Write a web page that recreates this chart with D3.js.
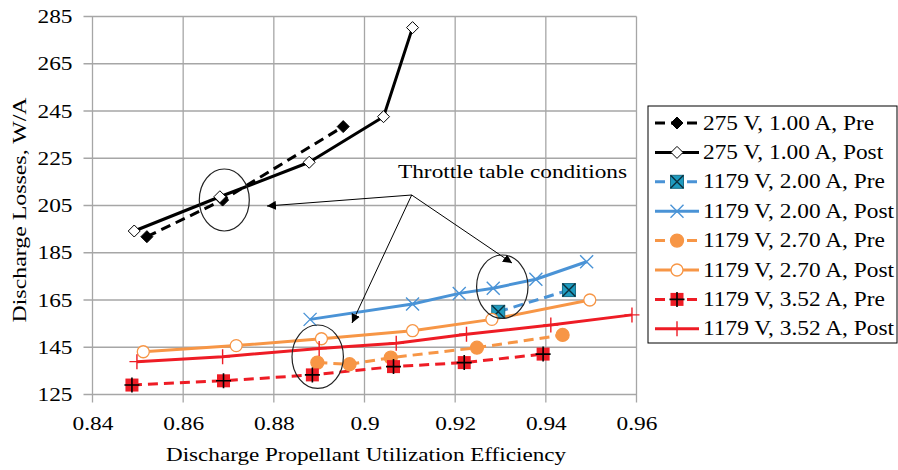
<!DOCTYPE html>
<html>
<head>
<meta charset="utf-8">
<script src="https://cdn.jsdelivr.net/npm/d3@7"></script>
<style>
  body { margin: 0; background: #fff; }
  svg text { font-family: "Liberation Serif", "Times New Roman", serif; fill: #000; }
</style>
</head>
<body>
<svg id="chart" width="898" height="470"></svg>
<script>
// data
var xTicks = [0.84, 0.86, 0.88, 0.9, 0.92, 0.94, 0.96];
var yTicks = [125, 145, 165, 185, 205, 225, 245, 265, 285];

var v275Pre  = [[0.852, 191.8], [0.8687, 207.3], [0.8953, 238.4]];
var v275Post = [[0.8492, 194.2], [0.8681, 208.7], [0.8878, 223.3], [0.9042, 242.6], [0.9106, 280.3]];
var a200Pre  = [[0.9295, 160.0], [0.9451, 169.2]];
var a200Post = [[0.888, 156.8], [0.9106, 163.3], [0.9209, 167.8], [0.9284, 170.0], [0.9378, 173.8], [0.949, 181.2]];
var a270Pre  = [[0.8896, 138.5], [0.8967, 137.8], [0.9058, 140.6], [0.9248, 144.8], [0.9437, 150.2]];
var a270Post = [[0.8512, 143.1], [0.8717, 145.7], [0.8905, 148.6], [0.9106, 152.0], [0.9281, 156.8], [0.9497, 165.0]];
var a352Pre  = [[0.8487, 129.0], [0.8689, 130.8], [0.8885, 133.3], [0.9064, 136.8], [0.922, 138.5], [0.9394, 142.1]];
var a352Post = [[0.8498, 138.9], [0.8687, 141.0], [0.89, 144.5], [0.907, 146.7], [0.9225, 150.5], [0.9411, 154.4], [0.959, 158.7]];

var seriesNames = ["275 V, 1.00 A, Pre", "275 V, 1.00 A, Post", "1179 V, 2.00 A, Pre", "1179 V, 2.00 A, Post",
                   "1179 V, 2.70 A, Pre", "1179 V, 2.70 A, Post", "1179 V, 3.52 A, Pre", "1179 V, 3.52 A, Post"];

var black = "#000", blue = "#4a93d6", orange = "#f79646", red = "#ee1c25";

var series = [
  { name: seriesNames[0], data: v275Pre,  color: black,  dash: true,  marker: "diamondFill" },
  { name: seriesNames[1], data: v275Post, color: black,  dash: false, marker: "diamondOpen" },
  { name: seriesNames[2], data: a200Pre,  color: blue,   dash: true,  marker: "squareX" },
  { name: seriesNames[3], data: a200Post, color: blue,   dash: false, marker: "cross" },
  { name: seriesNames[4], data: a270Pre,  color: orange, dash: true,  marker: "circleFill" },
  { name: seriesNames[5], data: a270Post, color: orange, dash: false, marker: "circleOpen" },
  { name: seriesNames[6], data: a352Pre,  color: red,    dash: true,  marker: "squarePlus" },
  { name: seriesNames[7], data: a352Post, color: red,    dash: false, marker: "plus" }
];

var FONT = "Liberation Serif";

var svg = d3.select("#chart");
var x = d3.scaleLinear().domain([0.84, 0.96]).range([92.5, 636.5]);
var y = d3.scaleLinear().domain([125, 285]).range([394.5, 16.5]);

// grid
var grid = svg.append("g");
grid.selectAll("line.v").data(xTicks).enter().append("line")
  .attr("x1", function(d) { return x(d); }).attr("x2", function(d) { return x(d); })
  .attr("y1", y(285)).attr("y2", y(125) + 8)
  .attr("stroke", "#a6a6a6").attr("stroke-width", 1.3);
grid.selectAll("line.h").data(yTicks).enter().append("line")
  .attr("y1", function(d) { return y(d); }).attr("y2", function(d) { return y(d); })
  .attr("x1", x(0.84) - 9).attr("x2", x(0.96))
  .attr("stroke", "#a6a6a6").attr("stroke-width", 1.3);

// axes (labels only, lines drawn by grid)
var xAxis = d3.axisBottom(x).tickValues(xTicks).tickSize(0).tickPadding(22)
  .tickFormat(function(d) { return String(+d.toFixed(2)); });
svg.append("g").attr("transform", "translate(0," + y(125) + ")").call(xAxis)
  .attr("font-family", FONT).attr("font-size", 19)
  .call(function(g) { g.select(".domain").remove(); })
  .selectAll("text").attr("class", "tick-label");

var yAxis = d3.axisLeft(y).tickValues(yTicks).tickSize(0).tickPadding(20);
svg.append("g").attr("transform", "translate(" + x(0.84) + ",0)").call(yAxis)
  .attr("font-family", FONT).attr("font-size", 19)
  .call(function(g) { g.select(".domain").remove(); })
  .selectAll("text").attr("class", "tick-label");

svg.append("text").attr("x", 366).attr("y", 461).attr("text-anchor", "middle")
  .attr("font-size", 19).attr("textLength", 400).attr("lengthAdjust", "spacingAndGlyphs")
  .text("Discharge Propellant Utilization Efficiency");
svg.append("text").attr("transform", "translate(26,210) rotate(-90)").attr("text-anchor", "middle")
  .attr("font-size", 19).attr("textLength", 225).attr("lengthAdjust", "spacingAndGlyphs")
  .text("Discharge Losses, W/A");

// markers
function drawMarker(g, type, color, cx, cy) {
  var s;
  if (type == "diamondFill" || type == "diamondOpen") {
    s = 6;
    g.append("path").attr("d", "M" + cx + "," + (cy - s) + "L" + (cx + s) + "," + cy + "L" + cx + "," + (cy + s) + "L" + (cx - s) + "," + cy + "Z")
      .attr("fill", type == "diamondFill" ? "#000" : "#fff").attr("stroke", "#000").attr("stroke-width", 1);
  }
  else if (type == "squareX") {
    s = 6.5;
    g.append("rect").attr("x", cx - s).attr("y", cy - s).attr("width", 2 * s).attr("height", 2 * s)
      .attr("fill", "#1f9bbf").attr("stroke", "#1a6e88").attr("stroke-width", 1);
    g.append("path").attr("d", "M" + (cx - s) + "," + (cy - s) + "L" + (cx + s) + "," + (cy + s) + "M" + (cx + s) + "," + (cy - s) + "L" + (cx - s) + "," + (cy + s))
      .attr("stroke", "#0b2f3c").attr("stroke-width", 1.4);
  }
  else if (type == "cross") {
    s = 6.5;
    g.append("path").attr("d", "M" + (cx - s) + "," + (cy - s) + "L" + (cx + s) + "," + (cy + s) + "M" + (cx + s) + "," + (cy - s) + "L" + (cx - s) + "," + (cy + s))
      .attr("stroke", color).attr("stroke-width", 1.4);
  }
  else if (type == "circleFill" || type == "circleOpen") {
    g.append("circle").attr("cx", cx).attr("cy", cy).attr("r", type == "circleFill" ? 6.5 : 6)
      .attr("fill", type == "circleFill" ? color : "#fff").attr("stroke", color).attr("stroke-width", 1.3);
  }
  else if (type == "squarePlus") {
    s = 6.5;
    g.append("rect").attr("x", cx - s).attr("y", cy - s).attr("width", 2 * s).attr("height", 2 * s)
      .attr("fill", color);
    g.append("path").attr("d", "M" + (cx - s - 1) + "," + cy + "L" + (cx + s + 1) + "," + cy + "M" + cx + "," + (cy - s - 1) + "L" + cx + "," + (cy + s + 1))
      .attr("stroke", "#000").attr("stroke-width", 1.6);
  }
  else if (type == "plus") {
    s = 7.5;
    g.append("path").attr("d", "M" + (cx - s) + "," + cy + "L" + (cx + s) + "," + cy + "M" + cx + "," + (cy - s) + "L" + cx + "," + (cy + s))
      .attr("stroke", color).attr("stroke-width", 1.4);
  }
}

var line = d3.line().x(function(d) { return x(d[0]); }).y(function(d) { return y(d[1]); })
  .curve(d3.curveLinear);

// draw lines first then markers
series.forEach(function(s) {
  svg.append("path").datum(s.data).attr("d", line)
    .attr("fill", "none").attr("stroke", s.color).attr("stroke-width", 3)
    .attr("stroke-linejoin", "round")
    .attr("stroke-dasharray", s.dash ? "10,6" : null);
});
series.forEach(function(s) {
  var g = svg.append("g");
  s.data.forEach(function(d) { drawMarker(g, s.marker, s.color, x(d[0]), y(d[1])); });
});

// annotation
var ann = svg.append("g");
ann.append("defs").append("marker").attr("id", "arrow").attr("viewBox", "0 0 10 10")
  .attr("refX", 10).attr("refY", 5).attr("markerWidth", 9).attr("markerHeight", 9)
  .attr("orient", "auto").append("path").attr("d", "M0,0L10,5L0,10Z").attr("fill", "#000");
var origin = [411.7, 195];
var targets = [[267, 206], [352, 323], [512, 263]];
targets.forEach(function(t) {
  ann.append("line").attr("x1", origin[0]).attr("y1", origin[1]).attr("x2", t[0]).attr("y2", t[1])
    .attr("stroke", "#000").attr("stroke-width", 1).attr("marker-end", "url(#arrow)");
});
var ellipses = [[224.3, 200, 25, 31], [317.7, 356.7, 25.7, 31.7], [502.3, 286.7, 25.7, 31.7]];
ellipses.forEach(function(e) {
  ann.append("ellipse").attr("cx", e[0]).attr("cy", e[1]).attr("rx", e[2]).attr("ry", e[3])
    .attr("fill", "none").attr("stroke", "#222").attr("stroke-width", 1.2);
});
ann.append("text").attr("x", 398).attr("y", 178).attr("font-size", 19)
  .attr("textLength", 229).attr("lengthAdjust", "spacingAndGlyphs")
  .text("Throttle table conditions");

// legend
var lg = svg.append("g");
lg.append("rect").attr("x", 648).attr("y", 106).attr("width", 249).attr("height", 237)
  .attr("fill", "#fff").attr("stroke", "#000").attr("stroke-width", 1);
series.forEach(function(s, i) {
  var cy = 123 + i * 29.4;
  lg.append("line").attr("x1", 655).attr("x2", 699).attr("y1", cy).attr("y2", cy)
    .attr("stroke", s.color).attr("stroke-width", 3)
    .attr("stroke-dasharray", s.dash ? "10,6" : null);
  drawMarker(lg, s.marker, s.color, 677, cy);
  lg.append("text").attr("x", 703).attr("y", cy + 6.5).attr("font-size", 20).attr("class", "legend-label").text(s.name);
});

// the original text is drawn wider than the font; scale by one measured label of each kind
function fitWidths(sel, refText, refWidth) {
  var ratio = 1;
  sel.each(function() { if (this.textContent == refText) ratio = refWidth / this.getComputedTextLength(); });
  sel.each(function() {
    d3.select(this).attr("textLength", this.getComputedTextLength() * ratio).attr("lengthAdjust", "spacingAndGlyphs");
  });
}
fitWidths(svg.selectAll("text.legend-label"), "1179 V, 2.00 A, Post", 191);
fitWidths(svg.selectAll("text.tick-label"), "285", 35);
</script>
</body>
</html>
